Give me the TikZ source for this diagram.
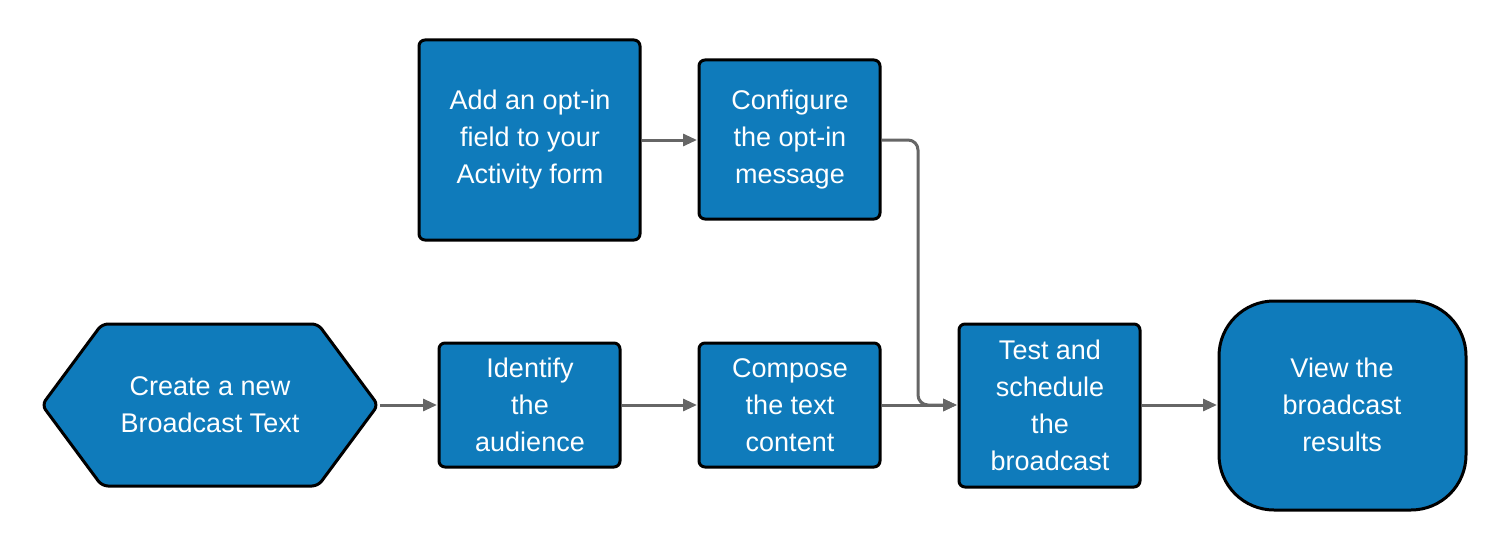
\documentclass[tikz,border=0pt]{standalone}
\usepackage{fontspec}
\setmainfont{Liberation Sans}
\usetikzlibrary{arrows.meta}
\definecolor{fillb}{HTML}{0F7BBB}
\definecolor{arr}{HTML}{666666}
\begin{document}
\begin{tikzpicture}[x=1pt,y=-1pt,
  box/.style={draw=black,line width=3pt,fill=fillb,rounded corners=6pt},
  lbl/.style={text=white,align=center,font=\fontsize{27}{37}\selectfont},
  con/.style={draw=arr,line width=3pt,-{Triangle[length=14pt,width=12pt]}}]
\useasboundingbox (0,0) rectangle (1507,551);
\draw[box] (42,405) -- (102,324) -- (318,324) -- (378,405) -- (318,486) -- (102,486) -- cycle;
\node[lbl] (create) at (210,405) {Create a new\\Broadcast Text};
\draw[box] (439,343) rectangle (620,467);
\node[lbl] (ident) at (530,405) {Identify\\the\\audience};
\draw[box] (699,343) rectangle (880,467);
\node[lbl] (comp) at (790,405) {Compose\\the text\\content};
\draw[box] (959,324) rectangle (1140,487);
\node[lbl] (test) at (1050,405) {Test and\\schedule\\the\\broadcast};
\draw[box,rounded corners=55pt] (1219,301) rectangle (1466,510);
\node[lbl] (view) at (1342,405) {View the\\broadcast\\results};
\draw[box] (419,40) rectangle (640,240);
\node[lbl] (add) at (530,140) {Add an opt-in\\field to your\\Activity form};
\draw[box] (699,60) rectangle (880,219);
\node[lbl] (conf) at (790,140) {Configure\\the opt-in\\message};
\coordinate (cr) at (380,405);
\coordinate (il) at (437,405);
\coordinate (ir) at (622,405);
\coordinate (cl) at (697,405);
\coordinate (cor) at (882,405);
\coordinate (tl) at (957,405);
\coordinate (tr) at (1142,405);
\coordinate (vl) at (1217,405);
\coordinate (ar) at (642,140);
\coordinate (fl) at (697,140);
\coordinate (fr) at (882,140);
\draw[con] (cr) -- (il);
\draw[con] (ir) -- (cl);
\draw[con] (cor) -- (tl);
\draw[con] (tr) -- (vl);
\draw[con] (ar) -- (fl);
\draw[con,rounded corners=10pt] (fr) -- (918,140) -- (918,405) -- (tl);
\end{tikzpicture}
\end{document}
